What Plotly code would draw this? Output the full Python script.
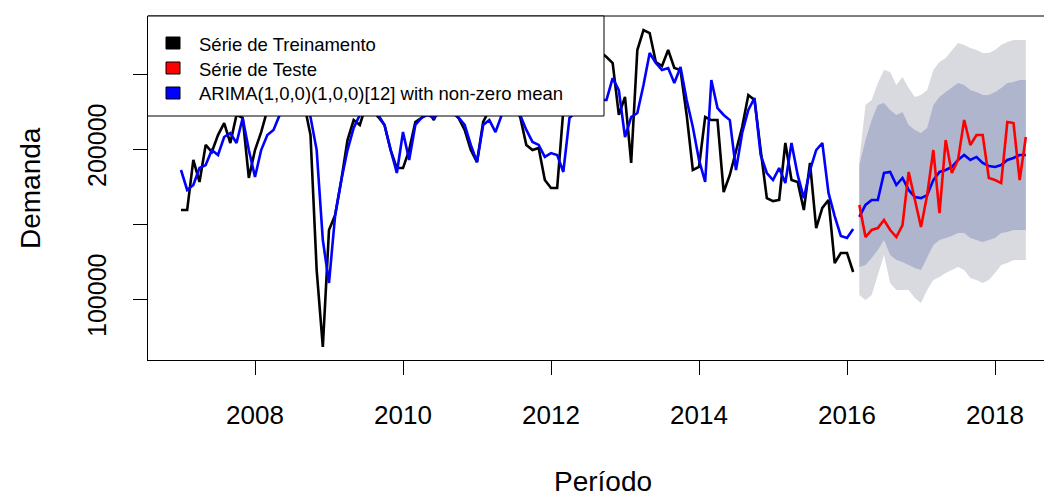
import plotly.graph_objects as go

# ---------------- data (monthly) ----------------
train_start = 2007.0  # January 2007
train = [159300, 159300, 192700, 178000, 202700, 198000, 209300, 217300, 204000, 222700,
         220700, 180700, 199300, 211300, 226000, 232700, 236000, 232700, 239300, 232700,
         229300, 209300, 119300, 68000, 146000, 156000, 179300, 206000, 219300, 216000,
         229300, 226000, 221300, 216000, 199300, 187300, 187300, 199300, 218000, 220700,
         226000, 219300, 229300, 232700, 224700, 220700, 212700, 199300, 191300, 218000,
         226000, 229300, 232700, 236000, 229300, 221300, 202700, 199300, 200700, 179300,
         174000, 174000, 226000, 236000, 246000, 252700, 259300, 262700, 264700, 261300,
         257300, 222700, 234700, 190700, 266000, 279300, 277300, 258000, 255300, 266000,
         254000, 252700, 222700, 186000, 188000, 221300, 219300, 219300, 171300, 182700,
         199300, 214700, 236000, 232700, 199300, 167300, 165300, 166000, 204000, 179300,
         178000, 159300, 190700, 147300, 160700, 166000, 124000, 130700, 130700, 118000]

fitted = [186000, 172700, 176000, 187300, 189300, 199300, 196000, 208000, 210700, 204000,
          220700, 199300, 181300, 199300, 209300, 212700, 222700, 229300, 232700, 229300,
          232700, 221300, 199300, 139300, 110700, 156000, 179300, 199300, 214000, 222700,
          226000, 224700, 222700, 216000, 199300, 184000, 211300, 192700, 216000, 220700,
          222700, 220700, 224700, 229300, 226000, 220700, 216000, 202700, 191300, 216000,
          219300, 211300, 222700, 229300, 226000, 222700, 212700, 204700, 202700, 194700,
          197300, 196000, 184700, 220700, 224700, 232700, 239300, 242700, 232700, 232700,
          247300, 239300, 208000, 221300, 224000, 242700, 264000, 257300, 252700, 254000,
          244000, 254700, 232700, 214700, 192700, 178000, 246000, 227300, 222700, 219300,
          186000, 210700, 226000, 234000, 196000, 184000, 179300, 187300, 177300, 204000,
          182700, 167300, 186000, 199300, 204000, 170700, 155300, 142000, 140700, 146700]

test = [162700, 141300, 146000, 147300, 152700, 146000, 141300, 149300, 184700, 166000,
        148000, 169300, 199300, 157300, 206000, 184000, 192700, 219300, 202700, 209300,
        209300, 180700, 179300, 177300, 218000, 217300, 179300, 208000]

fc_mean = [154700, 162700, 166000, 166000, 184000, 184700, 176000, 180700, 172700, 168000,
           167300, 169300, 179300, 184700, 186000, 188000, 192700, 196000, 192700, 194700,
           190700, 188700, 188000, 189300, 192700, 194000, 196000, 196000]
lo80 = [121300, 122700, 127300, 132700, 139300, 129300, 126000, 124700, 122700, 120700,
        119300, 127300, 136000, 139300, 140700, 142000, 144000, 144000, 140700, 139300,
        138000, 139300, 140700, 144000, 144700, 146000, 146000, 146000]
hi80 = [189300, 206000, 219300, 229300, 230700, 226000, 222700, 224700, 216000, 212700,
        210700, 214000, 229300, 234700, 238000, 241300, 244000, 242700, 239300, 238000,
        236000, 236000, 238000, 240700, 244000, 244700, 246000, 246000]
lo95 = [102700, 99300, 102700, 116000, 129300, 110700, 106000, 106000, 106000, 100700,
        97300, 106000, 112700, 114700, 117300, 119300, 121300, 119300, 114000, 112700,
        110700, 112700, 117300, 122700, 124000, 126000, 126000, 126000]
hi95 = [192700, 229300, 232700, 244000, 252700, 251300, 242700, 248000, 240700, 234700,
        236000, 239300, 252700, 258000, 260700, 266000, 270700, 269300, 267300, 266000,
        264000, 264000, 266000, 269300, 271300, 272700, 272700, 272700]

x_ticks = [2008, 2010, 2012, 2014, 2016, 2018]
y_ticks = [50000, 100000, 150000, 200000, 250000]
y_ticktext = ["", "100000", "", "200000", ""]

legend_labels = ["Série de Treinamento", "Série de Teste",
                 "ARIMA(1,0,0)(1,0,0)[12] with non-zero mean"]
legend_colors = ["#000000", "#FF0000", "#0000FF"]

# ---------------- time axes ----------------
t_train = [train_start + i / 12 for i in range(len(train))]
t_test = [train_start + (len(train) + i) / 12 for i in range(len(test))]

LIGHT = "#D9D9E0"
DARK = "#B0B5CE"
FONT = "Liberation Sans, Arial, sans-serif"

fig = go.Figure()
# 95% band
fig.add_trace(go.Scatter(x=t_test, y=hi95, mode="lines", line=dict(width=0),
                         hoverinfo="skip", showlegend=False))
fig.add_trace(go.Scatter(x=t_test, y=lo95, mode="lines", line=dict(width=0),
                         fill="tonexty", fillcolor=LIGHT, name="95%", showlegend=False))
# 80% band
fig.add_trace(go.Scatter(x=t_test, y=hi80, mode="lines", line=dict(width=0),
                         hoverinfo="skip", showlegend=False))
fig.add_trace(go.Scatter(x=t_test, y=lo80, mode="lines", line=dict(width=0),
                         fill="tonexty", fillcolor=DARK, name="80%", showlegend=False))
# series
fig.add_trace(go.Scatter(x=t_train, y=train, mode="lines", name=legend_labels[0],
                         line=dict(color="#000000", width=2.6), showlegend=False))
fig.add_trace(go.Scatter(x=t_test, y=fc_mean, mode="lines", name="Previsão",
                         line=dict(color="#0000FF", width=2.6), showlegend=False))
fig.add_trace(go.Scatter(x=t_train, y=fitted, mode="lines", name=legend_labels[2],
                         line=dict(color="#0000FF", width=2.6), showlegend=False))
fig.add_trace(go.Scatter(x=t_test, y=test, mode="lines", name=legend_labels[1],
                         line=dict(color="#FF0000", width=2.6), showlegend=False))

W, H = 1044, 497
L, R, T, B = 148, 0, 16, 137
pw, ph = W - L - R, H - T - B

def px_x(px):
    return (px - L) / pw

def px_y(py):
    return (H - B - py) / ph

shapes = []
# top frame line (right edge lies outside the window)
shapes.append(dict(type="line", xref="paper", yref="paper", x0=0, x1=1.05, y0=1, y1=1,
                   line=dict(color="#000000", width=1), layer="above"))
# legend box
shapes.append(dict(type="rect", xref="paper", yref="paper",
                   x0=px_x(147.5), x1=px_x(604), y0=px_y(116), y1=px_y(16),
                   fillcolor="white", line=dict(color="#000000", width=1), layer="above"))
annotations = []
row_y = [43, 68, 93]
for lab, col, ry in zip(legend_labels, legend_colors, row_y):
    shapes.append(dict(type="rect", xref="paper", yref="paper",
                       x0=px_x(166), x1=px_x(180), y0=px_y(ry + 6), y1=px_y(ry - 6),
                       fillcolor=col, line=dict(color="#000000", width=1), layer="above"))
    annotations.append(dict(xref="paper", yref="paper", x=px_x(197), y=px_y(ry + 1),
                            xanchor="left", yanchor="middle", showarrow=False, text=lab,
                            font=dict(family=FONT, size=18.5, color="#000000")))
# axis titles
annotations.append(dict(xref="paper", yref="paper", x=px_x(603), y=px_y(481),
                        xanchor="center", yanchor="middle", showarrow=False, text="Período",
                        font=dict(family=FONT, size=28, color="#000000")))
annotations.append(dict(xref="paper", yref="paper", x=px_x(30), y=px_y(188),
                        xanchor="center", yanchor="middle", showarrow=False, text="Demanda",
                        textangle=-90, font=dict(family=FONT, size=28, color="#000000")))

fig.update_layout(
    width=W, height=H,
    margin=dict(l=L, r=R, t=T, b=B),
    paper_bgcolor="white", plot_bgcolor="white",
    showlegend=False,
    shapes=shapes, annotations=annotations,
    font=dict(family=FONT, color="#000000"),
)
fig.update_xaxes(range=[2008 - (255 - L) / 74, 2008 + (W - 255) / 74],
                 tickvals=x_ticks, ticktext=[str(v) for v in x_ticks],
                 showgrid=False, zeroline=False, showline=True, linecolor="#000000",
                 linewidth=1, ticks="outside", ticklen=14, tickcolor="#000000",
                 tickfont=dict(family=FONT, size=26, color="#000000"),
                 ticklabelstandoff=18)
fig.update_yaxes(range=[100000 - (360 - 299) / 1.5 * 1000, 200000 + (149 - 16) / 1.5 * 1000],
                 tickvals=y_ticks, ticktext=y_ticktext, tickangle=-90,
                 showgrid=False, zeroline=False, showline=True, linecolor="#000000",
                 linewidth=1, ticks="outside", ticklen=14, tickcolor="#000000",
                 tickfont=dict(family=FONT, size=25, color="#000000"),
                 ticklabelstandoff=17)

fig.write_html("out.html", config={"displayModeBar": False},
               post_script="document.body.style.margin='0';document.body.style.overflow='hidden';")
